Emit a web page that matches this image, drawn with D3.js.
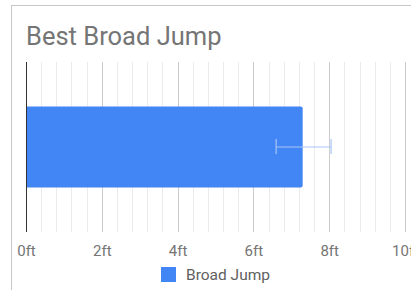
<!DOCTYPE html>
<html>
<head>
<meta charset="utf-8">
<script src="https://cdn.jsdelivr.net/npm/d3@7"></script>
<style>
  body { margin: 0; background: #fff; font-family: Roboto, "Noto Sans", sans-serif; }
  svg { display: block; }
</style>
</head>
<body>
<div id="chart"></div>
<script>
// chart values
var categories = ["Best"];
var seriesName = "Broad Jump";
var jumpValues = [7.3];
var errorLow = [6.6];
var errorHigh = [8.05];
var tickValues = [0, 2, 4, 6, 8, 10];

function init(){

    var w = 411;
    var h = 290;

    var svg = d3.select("#chart")
        .append("svg")
        .attr("width", w)
        .attr("height", h);

    // card border (only left and top show in window)
    svg.append("rect")
        .attr("x", 11.5)
        .attr("y", 5.5)
        .attr("width", 420)
        .attr("height", 300)
        .attr("fill", "#fff")
        .attr("stroke", "#c6c6c6")
        .attr("stroke-width", 1);

    svg.append("text")
        .attr("x", 26)
        .attr("y", 45)
        .attr("fill", "#757575")
        .attr("font-size", 25.5)
        .text("Best Broad Jump");

    var top = 62, bottom = 232;
    var x = d3.scaleLinear().domain([0, 10]).range([26, 405]);
    var y = d3.scaleBand().domain(categories).range([top, bottom]).paddingInner(0).paddingOuter(0.55);

    // minor grid, 5 steps per major tick
    var minor = d3.range(0, 26)
        .filter(function(i){ return i % 5 !== 0; })
        .map(function(i){ return i * 0.4; });
    svg.selectAll(".minor")
        .data(minor)
        .enter()
        .append("line")
        .attr("class", "minor")
        .attr("x1", function(d){ return Math.round(x(d)) + 0.5; })
        .attr("x2", function(d){ return Math.round(x(d)) + 0.5; })
        .attr("y1", top)
        .attr("y2", bottom)
        .attr("stroke", "#ebebeb");

    svg.selectAll(".major")
        .data(tickValues.slice(1))
        .enter()
        .append("line")
        .attr("class", "major")
        .attr("x1", function(d){ return Math.round(x(d)) + 0.5; })
        .attr("x2", function(d){ return Math.round(x(d)) + 0.5; })
        .attr("y1", top)
        .attr("y2", bottom)
        .attr("stroke", "#cccccc");

    // bar
    svg.selectAll(".bar")
        .data(jumpValues)
        .enter()
        .append("path")
        .attr("class", "bar")
        .attr("fill", "#4285f4")
        .attr("d", function(d, i){
            var x0 = x(0), x1 = x(d), y0 = y(categories[i]), y1 = y0 + y.bandwidth(), r = 2;
            return "M" + x0 + "," + y0 + "H" + (x1 - r) + "Q" + x1 + "," + y0 + " " + x1 + "," + (y0 + r) +
                "V" + (y1 - r) + "Q" + x1 + "," + y1 + " " + (x1 - r) + "," + y1 + "H" + x0 + "Z";
        });

    // baseline
    svg.append("line")
        .attr("x1", x(0) + 0.5)
        .attr("x2", x(0) + 0.5)
        .attr("y1", top)
        .attr("y2", bottom)
        .attr("stroke", "#333")
        .attr("stroke-width", 1);

    // error bars
    var eb = svg.selectAll(".err")
        .data(jumpValues)
        .enter()
        .append("g")
        .attr("class", "err")
        .attr("stroke", "#a9c6f7")
        .attr("stroke-width", 1.2);
    eb.append("line")
        .attr("x1", function(d, i){ return x(errorLow[i]); })
        .attr("x2", function(d, i){ return x(errorHigh[i]); })
        .attr("y1", function(d, i){ return y(categories[i]) + y.bandwidth() / 2; })
        .attr("y2", function(d, i){ return y(categories[i]) + y.bandwidth() / 2; });
    [errorLow, errorHigh].forEach(function(arr){
        eb.append("line")
            .attr("x1", function(d, i){ return x(arr[i]); })
            .attr("x2", function(d, i){ return x(arr[i]); })
            .attr("y1", function(d, i){ return y(categories[i]) + y.bandwidth() / 2 - 8; })
            .attr("y2", function(d, i){ return y(categories[i]) + y.bandwidth() / 2 + 7; });
    });

    // axis
    var axis = d3.axisBottom(x)
        .tickValues(tickValues)
        .tickSize(0)
        .tickPadding(0)
        .tickFormat(function(d){ return d + "ft"; });
    var ax = svg.append("g")
        .attr("transform", "translate(0," + 245 + ")")
        .call(axis);
    ax.select(".domain").remove();
    ax.selectAll("text")
        .attr("fill", "#757575")
        .attr("font-size", 15)
        .attr("font-family", "Roboto, sans-serif");

    // legend
    svg.append("rect")
        .attr("x", 161)
        .attr("y", 267)
        .attr("width", 15)
        .attr("height", 15)
        .attr("fill", "#4285f4");
    svg.append("text")
        .attr("x", 186)
        .attr("y", 280)
        .attr("fill", "#616161")
        .attr("font-size", 15.5)
        .text(seriesName);
}
window.onload = init;
</script>
</body>
</html>
